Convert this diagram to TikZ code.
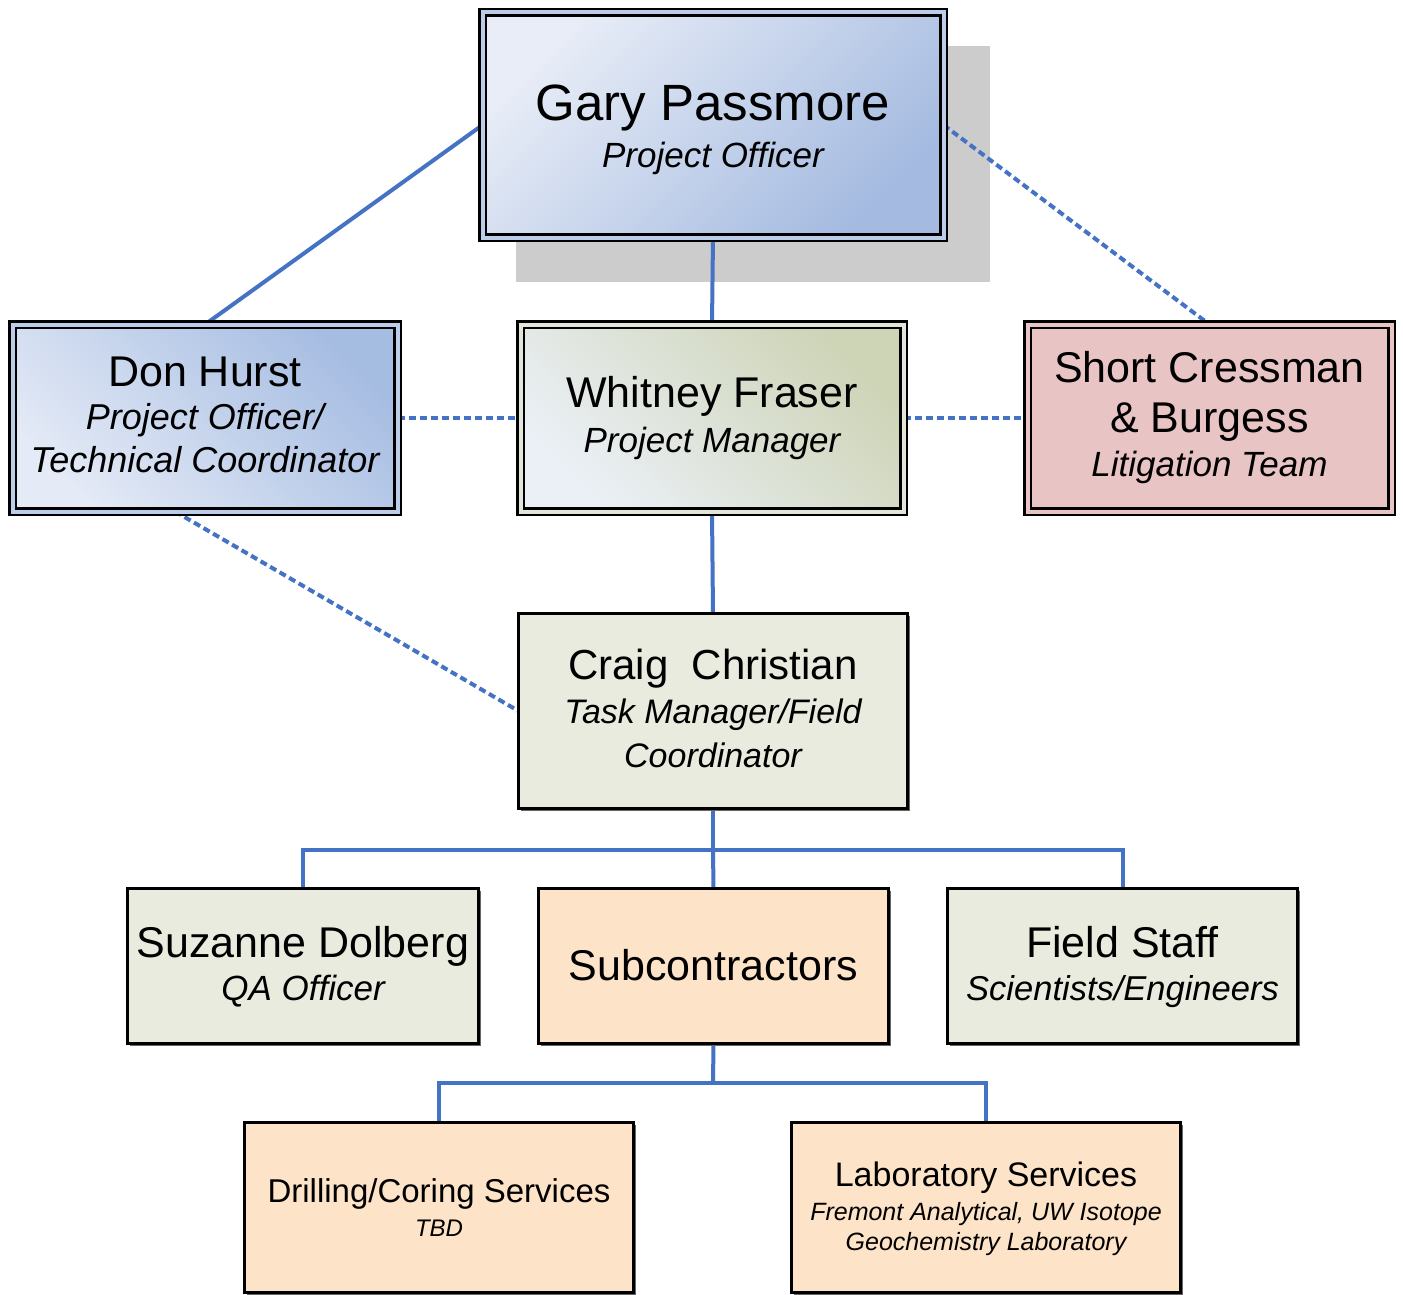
\documentclass[tikz,border=0pt]{standalone}
\usepackage{fontspec}
\setmainfont{Liberation Sans}
\usetikzlibrary{shadows,calc}
\definecolor{lineblue}{RGB}{68,114,196}
\definecolor{garyL}{RGB}{232,237,247}
\definecolor{garyD}{RGB}{164,186,224}
\definecolor{blueGap}{RGB}{188,205,234}
\definecolor{donL}{RGB}{228,234,246}
\definecolor{donD}{RGB}{166,189,226}
\definecolor{whitL}{RGB}{235,240,247}
\definecolor{whitD}{RGB}{206,212,182}
\definecolor{whitGap}{RGB}{226,230,216}
\definecolor{shortF}{RGB}{233,196,197}
\definecolor{sageF}{RGB}{232,235,221}
\definecolor{peachF}{RGB}{253,227,199}
\definecolor{shadeGray}{RGB}{204,204,204}
\pgfdeclarelayer{back}
\pgfdeclarelayer{links}
\pgfsetlayers{back,links,main}
\newcommand{\setfs}[2]{\fontsize{#1}{#2}\selectfont}
\newcommand{\topstrut}[1]{\rule{0pt}{#1}}
\newcommand{\botstrut}{\rule[-10pt]{0pt}{10pt}}
\tikzset{
  box/.style={draw=black, line width=3pt, inner sep=0pt, outer sep=0pt, align=center,
    drop shadow={shadow xshift=2.5pt, shadow yshift=-2.5pt, fill=black!60, opacity=1}},
  dbox/.style={box, line width=2.5pt, double distance=4pt},
  link/.style={draw=lineblue, line width=4pt},
  dlink/.style={link, dash pattern=on 7pt off 4pt},
  lead/.style={font=\setfs{20}{#1}},
}
\begin{document}
\begin{tikzpicture}[x=1pt,y=-1pt]
\useasboundingbox (0,0) rectangle (1403,1295);
\begin{pgfonlayer}{back}
  \fill[white] (0,0) rectangle (1403,1295);
  \fill[shadeGray] (516,46) rectangle (990,282);
\end{pgfonlayer}

\node[dbox, double=blueGap, top color=garyD, bottom color=garyL, shading angle=225,
  minimum width=461pt, minimum height=225pt, lead=47pt] (gary) at (713,125)
  {\setfs{51}{47}\topstrut{48pt}Gary Passmore\\\setfs{35}{47}\itshape Project Officer\botstrut};

\node[dbox, double=blueGap, top color=donD, bottom color=donL, shading angle=-45,
  minimum width=385pt, minimum height=187pt, lead=43pt] (don) at (205,418)
  {\setfs{43}{43}\topstrut{32pt}Don Hurst\\\setfs{36}{43}\itshape Project Officer/\\\setfs{36}{43}\itshape Technical Coordinator\botstrut};

\node[dbox, double=whitGap, top color=whitD, bottom color=whitL, shading angle=-45,
  minimum width=383pt, minimum height=187pt, lead=45pt] (whit) at (712,418)
  {\setfs{43}{45}\topstrut{33pt}Whitney Fraser\\\setfs{35}{45}\itshape Project Manager\botstrut};

\node[dbox, double=shortF, fill=shortF,
  minimum width=364pt, minimum height=187pt, lead=44pt] (short) at (1209.5,418)
  {\setfs{43}{44}\topstrut{32pt}Short Cressman\\[6pt]\setfs{43}{44}\& Burgess\\\setfs{35}{44}\itshape Litigation Team\botstrut};

\node[box, fill=sageF, minimum width=389pt, minimum height=195pt, lead=44pt] (craig) at (713,711)
  {\setfs{42}{44}\topstrut{34pt}Craig\ \ Christian\\\setfs{34}{44}\itshape Task Manager/Field\\\setfs{34}{44}\itshape Coordinator\botstrut};

\node[box, fill=sageF, minimum width=351pt, minimum height=155pt, lead=43pt] (suz) at (303,966)
  {\setfs{43}{43}\topstrut{35pt}Suzanne Dolberg\\\setfs{35}{43}\itshape QA Officer\botstrut};

\node[box, fill=peachF, minimum width=350pt, minimum height=155pt, lead=43pt] (sub) at (713.5,966)
  {\setfs{43}{43}\topstrut{38pt}Subcontractors\botstrut};

\node[box, fill=sageF, minimum width=350pt, minimum height=155pt, lead=43pt] (field) at (1122.5,966)
  {\setfs{43}{43}\topstrut{35pt}Field Staff\\\setfs{34.5}{43}\itshape Scientists/Engineers\botstrut};

\node[box, fill=peachF, minimum width=389pt, minimum height=170pt, lead=34pt] (drill) at (439,1207.5)
  {\setfs{33}{34}\topstrut{33pt}Drilling/Coring Services\\\setfs{24}{34}\itshape TBD\botstrut};

\node[box, fill=peachF, minimum width=389pt, minimum height=170pt, lead=30pt] (lab) at (986,1207.5)
  {\setfs{34}{30}\topstrut{31pt}Laboratory Services\\[4pt]\setfs{25}{30}\itshape Fremont Analytical, UW Isotope\\\setfs{25}{30}\itshape Geochemistry Laboratory\botstrut};

\begin{pgfonlayer}{links}
  \draw[link] (gary.west) -- (don.north);
  \draw[link] (gary.south) -- (whit.north);
  \draw[dlink] (gary.east) -- (short.north);
  \draw[dlink] (don.east) -- (whit.west);
  \draw[dlink] (whit.east) -- (short.west);
  \draw[link] (whit.south) -- (craig.north);
  \draw[dlink] ([xshift=-30pt]don.south) -- (craig.west);
  \coordinate (bus1) at (713,850);
  \draw[link] (craig.south) -- (bus1);
  \draw[link] (suz.north) |- (bus1) -| (field.north);
  \draw[link] (bus1) -- (sub.north);
  \coordinate (bus2) at (713,1083);
  \draw[link] (sub.south) -- (bus2);
  \draw[link] (drill.north) |- (bus2) -| (lab.north);
\end{pgfonlayer}
\end{tikzpicture}
\end{document}
